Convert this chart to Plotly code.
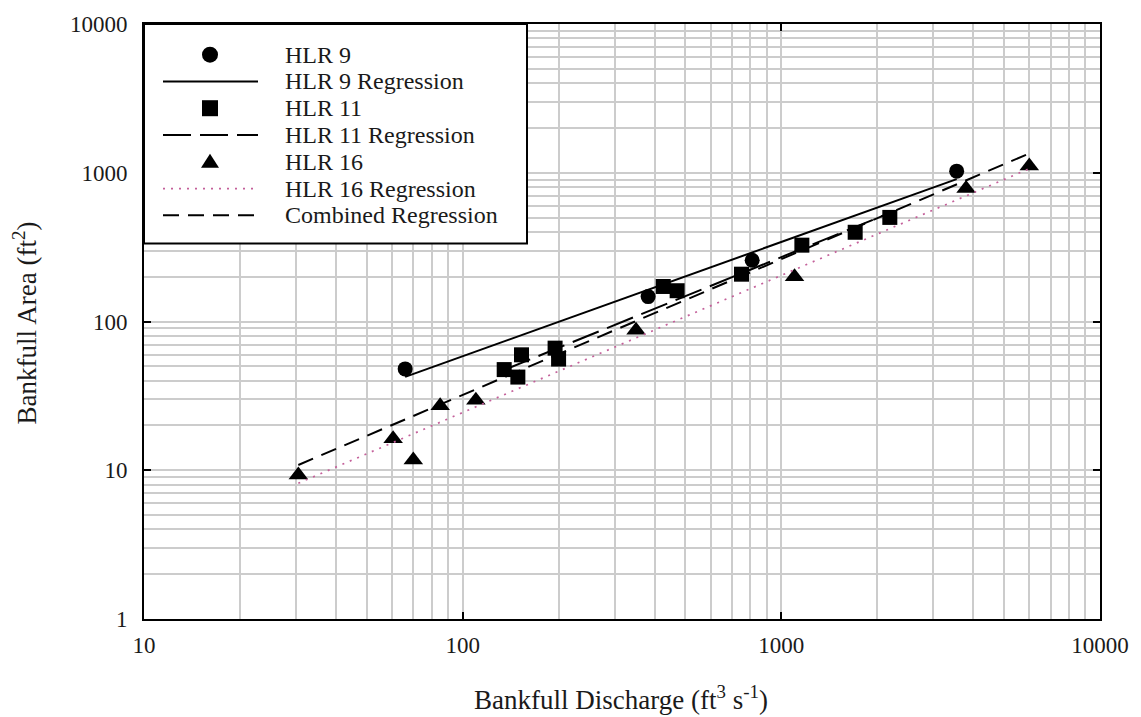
import numpy as np
import plotly.graph_objects as go

# Bankfull discharge (ft^3/s) and bankfull area (ft^2) by hydrologic region
hlr9_q = [66, 382, 810, 3550]
hlr9_a = [48, 147, 258, 1025]

hlr11_q = [135, 149, 153, 195, 200, 426, 471, 750, 1160, 1705, 2190]
hlr11_a = [47.5, 42.3, 59.7, 66.2, 55.9, 172, 161, 208, 326, 398, 501]

hlr16_q = [30.5, 60.5, 70, 85, 110, 350, 1100, 3800, 6000]
hlr16_a = [9.3, 16.3, 11.7, 27.1, 29.5, 87.5, 200, 785, 1110]

# Power-law regressions A = a * Q^b
reg_names = ["HLR 9 Regression", "HLR 11 Regression", "HLR 16 Regression", "Combined Regression"]
reg_a = [1.70, 0.656, 0.350, 0.479]
reg_b = [0.768, 0.872, 0.922, 0.913]

tick_vals = [1, 10, 100, 1000, 10000]
tick_text = ["1", "10", "100", "1000", "10000"]

FONT = "Liberation Serif"
INK = "#1a1a1a"
PINK = "#c4609a"

W, H = 1141, 717
ML, MR, MT, MB = 144, 41, 17, 98
PW, PH = W - ML - MR, H - MT - MB

fig = go.Figure()

fig.add_trace(go.Scatter(x=hlr9_q, y=hlr9_a, mode="markers", name="HLR 9",
                         marker=dict(symbol="circle", size=15, color="black")))
fig.add_trace(go.Scatter(x=hlr11_q, y=hlr11_a, mode="markers", name="HLR 11",
                         marker=dict(symbol="square", size=15, color="black")))
fig.add_trace(go.Scatter(x=hlr16_q, y=hlr16_a, mode="markers", name="HLR 16",
                         marker=dict(symbol="triangle-up", size=17, color="black")))

reg_ranges = [hlr9_q, hlr11_q, hlr16_q, hlr9_q + hlr11_q + hlr16_q]
reg_styles = [
    dict(color="black", width=2, dash="solid"),
    dict(color="black", width=2, dash="28px,9px"),
    dict(color=PINK, width=1.7, dash="2px,6px"),
    dict(color="black", width=2, dash="16px,9px"),
]
for name, a, b, qs, style in zip(reg_names, reg_a, reg_b, reg_ranges, reg_styles):
    q = np.array([min(qs), max(qs)], dtype=float)
    fig.add_trace(go.Scatter(x=q, y=a * q ** b, mode="lines", name=name, line=style))

axis_common = dict(
    type="log",
    showline=True, linecolor="black", linewidth=2, mirror="ticks",
    ticks="inside", ticklen=7, tickwidth=2, tickcolor="black",
    showgrid=True, gridcolor="#cccccc", gridwidth=1.6,
    minor=dict(dtick="D1", showgrid=True, gridcolor="#cccccc", gridwidth=1.6, ticks=""),
    tickfont=dict(family=FONT, size=23, color=INK),
    zeroline=False,
)
fig.update_xaxes(range=[1, 4], tickvals=tick_vals[1:], ticktext=tick_text[1:],
                 ticklabelstandoff=4, **axis_common)
fig.update_yaxes(range=[0, 4], tickvals=tick_vals, ticktext=tick_text,
                 ticklabelstandoff=10, **axis_common)


def px_x(p):
    return (p - ML) / PW


def px_y(p):
    return (H - MB - p) / PH


shapes = []
annotations = []

# Legend panel
shapes.append(dict(type="rect", xref="paper", yref="paper", layer="above",
                   x0=px_x(144), x1=px_x(527), y0=px_y(239), y1=px_y(17),
                   fillcolor="white", line=dict(color="black", width=2)))

legend_rows = [
    ("HLR 9", "circle", None),
    ("HLR 9 Regression", "line", reg_styles[0]),
    ("HLR 11", "square", None),
    ("HLR 11 Regression", "line", reg_styles[1]),
    ("HLR 16", "triangle", None),
    ("HLR 16 Regression", "line", reg_styles[2]),
    ("Combined Regression", "line", reg_styles[3]),
]
cx = px_x(210)
for i, (label, kind, style) in enumerate(legend_rows):
    cy = px_y(48 + 27.1 * i)
    if kind == "circle":
        shapes.append(dict(type="circle", xref="paper", yref="paper", layer="above",
                           xsizemode="pixel", ysizemode="pixel", xanchor=cx, yanchor=cy,
                           x0=-8, x1=8, y0=-8, y1=8, fillcolor="black",
                           line=dict(color="black", width=0)))
    elif kind == "square":
        shapes.append(dict(type="rect", xref="paper", yref="paper", layer="above",
                           xsizemode="pixel", ysizemode="pixel", xanchor=cx, yanchor=cy,
                           x0=-8, x1=8, y0=-8, y1=8, fillcolor="black",
                           line=dict(color="black", width=0)))
    elif kind == "triangle":
        shapes.append(dict(type="path", xref="paper", yref="paper", layer="above",
                           xsizemode="pixel", ysizemode="pixel", xanchor=cx, yanchor=cy,
                           path="M-9,-6 L9,-6 L0,8 Z", fillcolor="black",
                           line=dict(color="black", width=0)))
    else:
        shapes.append(dict(type="line", xref="paper", yref="paper", layer="above",
                           x0=px_x(163), x1=px_x(258), y0=cy, y1=cy, line=style))
    annotations.append(dict(text=label, xref="paper", yref="paper", x=px_x(283), y=cy,
                            xanchor="left", yanchor="middle", showarrow=False,
                            font=dict(family=FONT, size=24, color=INK)))

# Axis titles
annotations.append(dict(text="Bankfull Discharge (ft<sup>3</sup> s<sup>-1</sup>)",
                        xref="paper", yref="paper", x=px_x(621), y=px_y(699),
                        xanchor="center", yanchor="middle", showarrow=False,
                        font=dict(family=FONT, size=27, color=INK)))
annotations.append(dict(text="Bankfull Area (ft<sup>2</sup>)",
                        xref="paper", yref="paper", x=px_x(25), y=px_y(320),
                        xanchor="center", yanchor="middle", showarrow=False, textangle=-90,
                        font=dict(family=FONT, size=27, color=INK)))

fig.update_layout(
    width=W, height=H, autosize=False,
    margin=dict(l=ML, r=MR, t=MT, b=MB),
    paper_bgcolor="white", plot_bgcolor="white",
    showlegend=False,
    shapes=shapes, annotations=annotations,
)

fig.write_html("out.html")
